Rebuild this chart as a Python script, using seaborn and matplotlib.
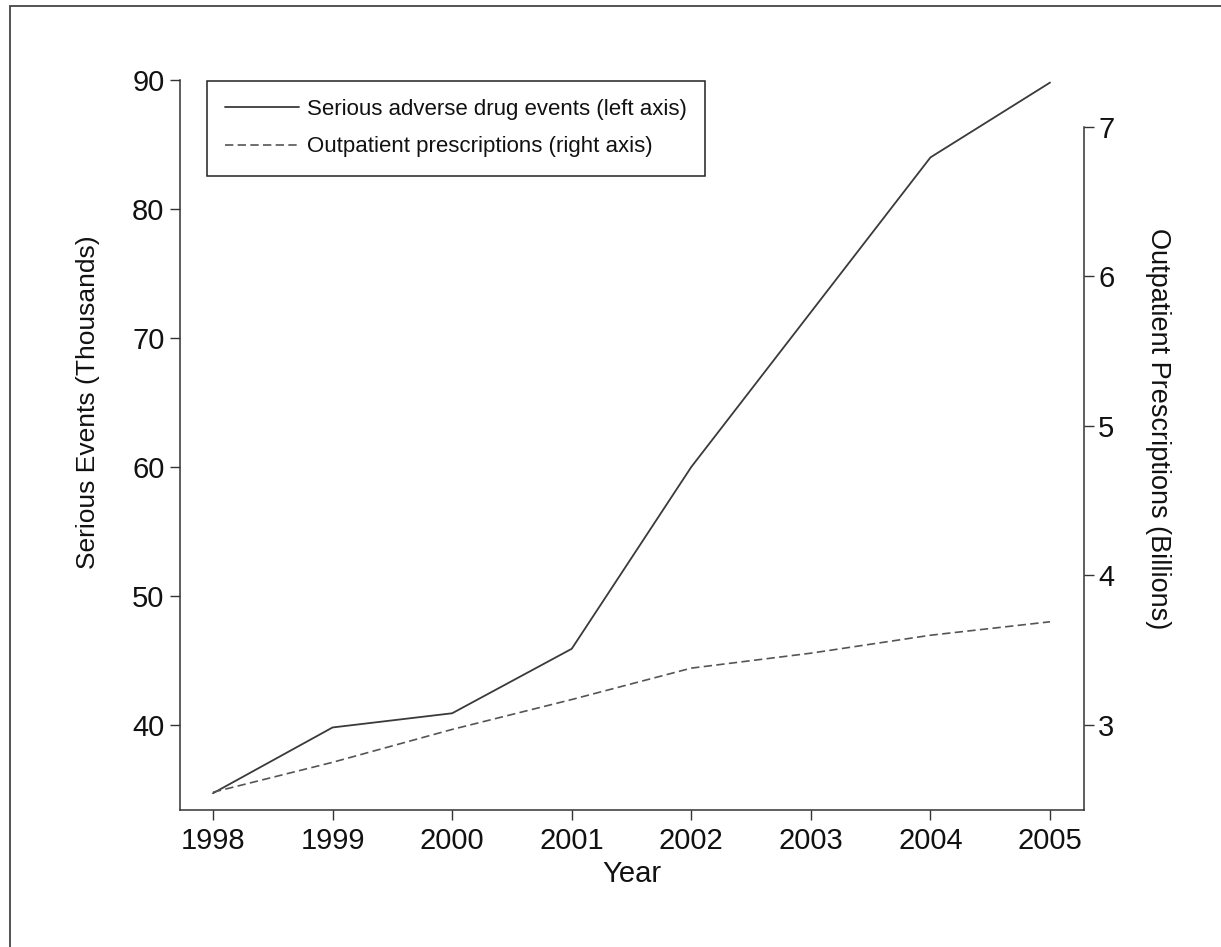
import pandas as pd
import seaborn as sns
import matplotlib.pyplot as plt
from matplotlib.patches import Rectangle

years = [1998, 1999, 2000, 2001, 2002, 2003, 2004, 2005]
serious_events = [34.7, 39.8, 40.9, 45.9, 60.0, 72.0, 84.0, 89.8]
prescriptions = [2.55, 2.75, 2.97, 3.17, 3.38, 3.48, 3.60, 3.69]

label_events = "Serious adverse drug events (left axis)"
label_rx = "Outpatient prescriptions (right axis)"

sns.set_style("ticks")
plt.rcParams['font.family'] = ['Liberation Sans Narrow', 'Liberation Sans', 'DejaVu Sans']

df = pd.DataFrame({"Year": years, "events": serious_events, "rx": prescriptions})

W, H = 1221, 947
fig = plt.figure(figsize=(W / 100, H / 100), dpi=100)
ax = fig.add_axes([180 / W, 137 / H, 904 / W, 730 / H])
ax2 = ax.twinx()

ink = "#333333"
sns.lineplot(data=df, x="Year", y="events", ax=ax, color="#3a3a3a", lw=1.3, legend=False)
sns.lineplot(data=df, x="Year", y="rx", ax=ax2, color="#555555", lw=1.2, legend=False)
ax2.lines[0].set_dashes((5, 2.6))

ax.set_xlim(1997.724, 2005.284)
ax.set_ylim(33.4, 90)
ax2.set_ylim(2.431, 7.314)
ax.set_xticks(years)
ax.set_yticks([40, 50, 60, 70, 80, 90])
ax2.set_yticks([3, 4, 5, 6, 7])

for a in (ax, ax2):
    a.spines["top"].set_visible(False)
    for s in a.spines.values():
        s.set_color(ink)
        s.set_linewidth(1.1)
    a.tick_params(length=7.2, width=1.0, color=ink, labelsize=21, labelcolor="#111111")
ax2.spines["left"].set_visible(False)
ax2.spines["bottom"].set_visible(False)
ax2.spines["right"].set_bounds(2.431, 7)
ax.spines["right"].set_visible(False)
ax.tick_params(axis="x", pad=5)
ax.tick_params(axis="y", pad=4)
ax2.tick_params(axis="y", pad=3)

ax.set_xlabel("Year", fontsize=21, color="#111111", va="center")
ax.xaxis.set_label_coords(0.5, -0.088)
ax.set_ylabel("Serious Events (Thousands)", fontsize=19, color="#111111", va="center")
ax.yaxis.set_label_coords(-0.102, 0.559)
ax2.set_ylabel("Outpatient Prescriptions (Billions)", fontsize=19.5, color="#111111",
               rotation=270, va="center")
ax2.yaxis.set_label_coords(1.082, 0.523)

handles = [ax.get_lines()[0], ax2.get_lines()[0]]
leg = ax2.legend(handles, [label_events, label_rx], loc="upper left",
                 bbox_to_anchor=(207 / W, 1 - 81 / H), bbox_transform=fig.transFigure,
                 borderaxespad=0, fancybox=False, framealpha=1, fontsize=16,
                 handlelength=3.33, handletextpad=0.36, borderpad=0.82, labelspacing=0.73)
leg.get_frame().set_edgecolor("#222222")
leg.get_frame().set_linewidth(1.1)
for t in leg.get_texts():
    t.set_color("#111111")

fig.patches.append(Rectangle((10 / W, -0.1), 2, 1 - 6 / H + 0.1, transform=fig.transFigure,
                             fill=False, edgecolor="#444444", lw=1.3))

fig.savefig("out.png", dpi=100, facecolor="white")
